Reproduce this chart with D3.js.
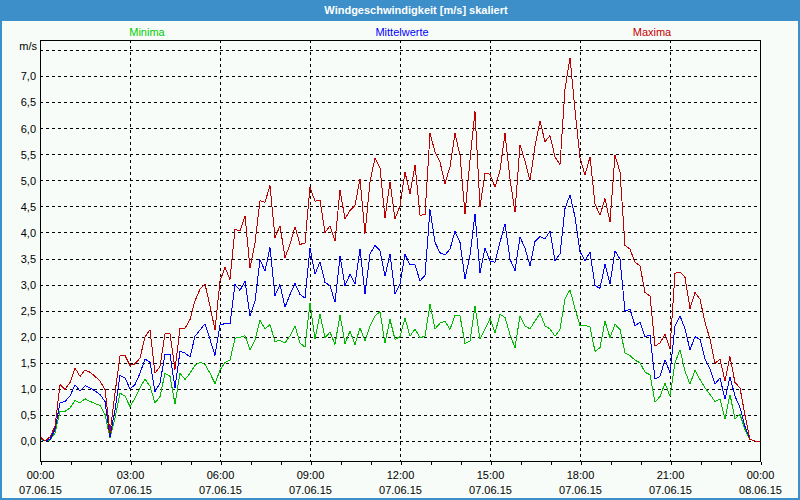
<!DOCTYPE html>
<html><head><meta charset="utf-8">
<script src="https://cdn.jsdelivr.net/npm/d3@7"></script>
<style>
html,body{margin:0;padding:0;background:#f8fcf8;}
svg{display:block;}
text{font-family:"Liberation Sans",Arial,sans-serif;font-size:11px;}
</style></head><body>
<svg id="chart" width="800" height="500"></svg>
<script>
// ---- data ----
const titleText = "Windgeschwindigkeit [m/s] skaliert";
const unitLabel = "m/s";
const startTime = new Date(2015, 5, 7, 0, 0);
const endTime = new Date(2015, 5, 8, 0, 0);
const stepMinutes = 10;
const seriesNames = ["Minima", "Mittelwerte", "Maxima"];
const seriesColors = ["#00bb00", "#0000ff", "#c00000"];
const legendColors = ["#00cc00", "#0000ff", "#c00000"];

const minima = [
 0.04,0.00,0.02,0.15,0.57,0.57,0.63,0.78,0.73,0.81,
 0.76,0.72,0.68,0.51,0.06,0.44,0.92,0.86,0.66,0.82,
 1.02,1.19,1.05,0.73,0.85,1.30,1.24,0.71,1.30,1.18,
 1.30,1.45,1.51,1.47,1.30,1.10,1.36,1.51,1.55,1.97,
 1.99,2.02,1.75,1.94,2.31,2.15,2.23,1.91,1.93,1.88,
 2.02,2.21,1.88,1.80,2.65,1.95,2.43,1.98,2.09,1.85,
 2.42,1.87,2.11,1.85,2.17,1.92,2.21,2.40,2.48,1.88,
 2.33,1.95,2.00,2.36,2.01,2.15,1.98,2.01,2.62,2.15,
 2.26,2.30,2.14,2.41,2.40,1.87,1.92,2.59,1.95,2.14,
 2.35,2.07,2.43,2.37,2.04,1.79,2.40,2.21,2.15,2.30,
 2.45,2.21,2.15,2.01,2.14,2.73,2.90,2.54,2.21,2.22,
 2.19,1.72,1.79,2.30,1.98,2.24,2.14,1.69,1.64,1.55,
 1.50,1.32,1.27,0.75,0.85,1.11,0.86,1.50,1.75,1.34,
 1.09,1.36,1.18,1.02,0.89,0.76,0.80,0.42,0.89,0.42,
 0.51,0.22,0.03,0.00,0.00];

const mittelwerte = [
 0.06,0.00,0.03,0.22,0.73,0.76,0.86,1.08,0.96,1.06,
 1.02,0.96,0.89,0.76,0.08,0.60,1.26,1.21,1.00,1.08,
 1.30,1.57,1.51,0.95,1.11,1.66,1.66,1.02,1.72,1.69,
 1.61,2.01,2.13,2.25,1.95,1.64,2.23,2.25,2.25,3.00,
 2.89,3.07,2.39,2.68,3.48,3.26,3.71,2.79,3.00,2.57,
 2.81,3.02,2.81,2.74,3.70,3.20,3.44,3.04,2.98,2.66,
 3.54,2.98,3.20,3.01,3.68,2.82,3.59,3.75,3.65,3.16,
 3.59,2.82,3.01,3.58,3.38,3.38,3.07,3.18,4.44,3.81,
 3.61,3.57,3.68,4.02,3.81,3.11,3.56,4.36,3.23,3.70,
 3.45,3.43,3.81,4.17,3.49,3.27,3.91,3.70,3.36,3.83,
 3.92,3.88,4.02,3.46,3.59,4.46,4.72,4.30,3.63,3.46,
 3.62,2.98,2.93,3.39,3.01,3.65,3.49,2.49,2.53,2.21,
 2.28,2.00,2.03,1.19,1.24,1.56,1.31,2.20,2.40,2.15,
 1.75,2.00,1.95,1.57,1.38,1.09,1.21,0.80,1.23,0.86,
 0.64,0.28,0.03,0.00,0.00];

const maxima = [
 0.08,0.00,0.08,0.28,1.08,0.99,1.12,1.40,1.24,1.36,
 1.32,1.24,1.15,0.99,0.15,0.92,1.63,1.64,1.45,1.48,
 1.59,2.00,2.13,1.30,1.43,2.06,2.06,1.37,2.16,2.16,
 2.33,2.69,2.91,3.01,2.59,2.13,3.07,3.33,3.10,4.06,
 4.03,4.32,3.32,3.80,4.61,4.58,4.90,3.90,4.13,3.52,
 3.77,4.11,3.77,3.80,4.87,4.60,4.62,4.00,4.13,3.83,
 4.81,4.26,4.42,4.52,5.03,3.98,4.97,5.43,5.23,4.28,
 4.97,4.26,4.51,5.16,4.74,5.29,4.33,4.34,5.90,5.55,
 5.35,4.94,5.26,5.90,5.48,4.36,5.39,6.32,4.49,5.13,
 5.12,4.87,5.19,5.90,5.03,4.39,5.68,5.37,5.00,5.65,
 6.14,5.74,5.86,5.45,5.30,6.75,7.35,6.35,5.43,5.10,
 5.45,4.55,4.33,4.65,4.20,5.48,5.16,3.75,3.68,3.43,
 3.36,2.85,2.78,1.82,1.88,2.05,1.77,3.22,3.24,3.14,
 2.54,2.85,2.72,2.28,1.95,1.49,1.57,1.15,1.62,1.12,
 1.02,0.49,0.03,0.00,0.00];

const yTickValues = [0,0.5,1,1.5,2,2.5,3,3.5,4,4.5,5,5.5,6,6.5,7];
const yGridValues = [0,0.5,1,1.5,2,2.5,3,3.5,4,4.5,5,5.5,6,6.5,7,7.5];
const yDomain = [0, 7.5];

// ---- layout ----
const W = 800, H = 500;
const plot = {left: 40, right: 760, top: 40, bottom: 461};
const svg = d3.select("#chart");
const bg = "#f8fcf8";
const frameBlue = "#3c8fc8";

svg.append("rect").attr("x",0).attr("y",0).attr("width",W).attr("height",H).attr("fill",bg);

const times = minima.map((_, i) => d3.timeMinute.offset(startTime, i * stepMinutes));
const x = d3.scaleTime().domain([startTime, endTime]).range([plot.left, plot.right]);
const y = d3.scaleLinear().domain(yDomain).range([441, 50]);

// grid
const grid = svg.append("g").attr("stroke","#000").attr("stroke-width",1)
  .attr("stroke-dasharray","3,3").attr("shape-rendering","crispEdges");
grid.selectAll("line.h").data(yGridValues).join("line").attr("class","h")
  .attr("x1", plot.left).attr("x2", plot.right)
  .attr("y1", d => Math.round(y(d)) + 0.5).attr("y2", d => Math.round(y(d)) + 0.5);
const majorTicks = x.ticks(d3.timeHour.every(3));
grid.selectAll("line.v").data(majorTicks.filter(t => +t > +startTime && +t < +endTime)).join("line").attr("class","v")
  .attr("y1", plot.top).attr("y2", plot.bottom)
  .attr("x1", d => Math.round(x(d)) + 0.5).attr("x2", d => Math.round(x(d)) + 0.5);

// series lines
const line = d3.line().x((d, i) => x(times[i])).y(d => y(d));
const seriesData = [minima, mittelwerte, maxima];
svg.append("g").selectAll("path").data(seriesData).join("path")
  .attr("d", d => line(d))
  .attr("fill","none")
  .attr("stroke", (d, i) => seriesColors[i])
  .attr("stroke-width", 1)
  .attr("shape-rendering","crispEdges");

// plot frame
svg.append("rect").attr("x", plot.left + 0.5).attr("y", plot.top + 0.5)
  .attr("width", plot.right - plot.left).attr("height", plot.bottom - plot.top)
  .attr("fill","none").attr("stroke","#000").attr("shape-rendering","crispEdges");

// x axis
const xAxisG = svg.append("g").attr("transform", `translate(0.5,${plot.bottom + 0.5})`);
const xAxis = d3.axisBottom(x).ticks(d3.timeHour.every(1)).tickSize(3).tickFormat("");
xAxisG.call(xAxis);
xAxisG.select(".domain").remove();
xAxisG.selectAll(".tick line").attr("stroke","#000").attr("shape-rendering","crispEdges");
const fmtTime = d3.timeFormat("%H:%M"), fmtDate = d3.timeFormat("%d.%m.%y");
const xl = svg.append("g").selectAll("text").data(majorTicks).join("text")
  .attr("text-anchor","middle").attr("fill","#000")
  .attr("x", d => x(d) + 0.5);
xl.append("tspan").attr("x", d => x(d) + 0.5).attr("y", 479).text(d => fmtTime(d));
xl.append("tspan").attr("x", d => x(d) + 0.5).attr("y", 494).text(d => fmtDate(d));

// y axis
const yAxisG = svg.append("g").attr("transform", `translate(${plot.left},0)`);
yAxisG.call(d3.axisLeft(y).tickValues(yTickValues).tickSize(0).tickPadding(4)
  .tickFormat(d => d3.format(".1f")(d).replace(".", ",")));
yAxisG.select(".domain").remove();
yAxisG.selectAll(".tick text").attr("font-family","Liberation Sans, Arial, sans-serif")
  .attr("font-size", 11).attr("fill","#000").attr("dy","0.35em");
svg.append("text").attr("x", 37).attr("y", 50).attr("text-anchor","end").text(unitLabel);

// legend
const legendX = [147, 402, 652];
svg.append("g").selectAll("text").data(seriesNames).join("text")
  .attr("x", (d, i) => legendX[i]).attr("y", 36).attr("text-anchor","middle")
  .attr("fill", (d, i) => legendColors[i]).text(d => d);

// title bar & frame
svg.append("rect").attr("x",0).attr("y",0).attr("width",W).attr("height",21).attr("fill",frameBlue);
svg.append("rect").attr("x",1).attr("y",1).attr("width",W-2).attr("height",H-2)
  .attr("fill","none").attr("stroke",frameBlue).attr("stroke-width",2);
svg.append("text").attr("x", 416).attr("y", 14).attr("text-anchor","middle")
  .attr("fill","#fff").attr("font-weight","bold").attr("font-size", 11.5).text(titleText);
</script>
</body></html>
